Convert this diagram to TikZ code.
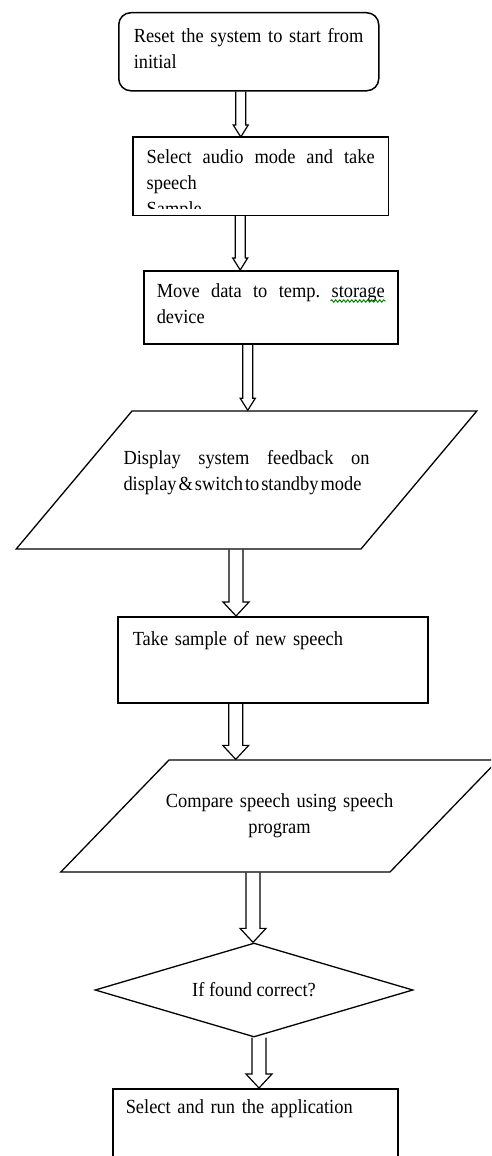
\documentclass[tikz,border=0pt]{standalone}
\usepackage{fontspec}
\setmainfont[FakeStretch=0.92]{Liberation Serif}
\usetikzlibrary{shapes.geometric,calc,decorations.pathmorphing}

\hyphenpenalty=10000
\exhyphenpenalty=10000
\frenchspacing

\newcommand\flowshaft{6pt}
\newcommand\flowwing{10pt}
\newcommand\flowhead{13pt}

\tikzset{
  every node/.style={font=\fontsize{20}{26}\selectfont},
  stepbox/.style={anchor=north west, inner ysep=0pt, align=justify},
  framed/.style={draw, line width=1.5pt},
  slanted/.style={draw, line width=1.3pt, trapezium, trapezium stretches body, inner ysep=0pt},
  decision/.style={draw, line width=1.3pt, diamond, aspect=3.4, inner sep=0pt},
  flow/.style={draw, line width=1.2pt, to path={let \p1=(\tikztostart), \p2=(\tikztotarget) in
    (\x1-\flowshaft,\y1) -- (\x1-\flowshaft,\y2+\flowhead) -- (\x1-\flowwing,\y2+\flowhead)
    -- (\x1,\y2) -- (\x1+\flowwing,\y2+\flowhead) -- (\x1+\flowshaft,\y2+\flowhead) -- (\x1+\flowshaft,\y1)}},
  slim/.code={\def\flowshaft{5pt}\def\flowwing{7.5pt}\def\flowhead{12pt}},
  broad/.code={\def\flowshaft{7pt}\def\flowwing{13pt}\def\flowhead{14pt}},
  squiggle/.style={green!55!black, line width=1pt, decorate, decoration={snake, amplitude=1.2pt, segment length=4pt}},
}

\begin{document}
\begin{tikzpicture}[x=1pt,y=-1pt]
\useasboundingbox (0,0) rectangle (491,1156);
\fill[white] (0,0) rectangle (491,1156);
\clip (0,0) rectangle (491,1156);

% process steps
\node[stepbox, framed, rounded corners=12pt, inner xsep=15pt, text width=230pt, align=left,
      text height=30pt, text depth=48pt] (reset) at (118,12) {Reset the system to start from initial};

\begin{scope}
  \clip (133,137) rectangle (388,208);
  \node[stepbox, inner xsep=13.5pt, text width=228pt, text height=26pt, text depth=52pt]
        (select) at (133,137) {Select audio mode and take speech\\Sample};
\end{scope}
\draw[framed] (select.north west) rectangle (select.south east);

\node[stepbox, framed, inner xsep=13pt, text width=228pt, text height=27pt, text depth=46pt]
      (move) at (143,270) {Move data to temp. storage device};
\draw[squiggle] ([xshift=-68pt,yshift=-31pt]move.north east) -- ([xshift=-13pt,yshift=-31pt]move.north east);

\node[slanted, trapezium left angle=50, trapezium right angle=130, inner xsep=-8.5pt,
      text width=246pt, align=justify, text height=53pt, text depth=85pt] (display) at (246.5,480)
      {Display system feedback on\linebreak{\spaceskip=0.1em plus 0.02em\relax display \& switch to standby mode}};

\node[stepbox, framed, inner xsep=15pt, text width=280pt, align=left, text height=29pt, text depth=57pt]
      (take) at (117,616) {Take sample of new speech};

\node[slanted, trapezium left angle=46, trapezium right angle=134, inner xsep=-14.5pt,
      text width=250pt, align=center, text height=47.5pt, text depth=64.5pt] (compare) at (279.5,816)
      {Compare speech using speech\\program};

\node[decision, minimum width=318pt, minimum height=94pt] (check) at (254,990) {If found correct?};

\node[stepbox, framed, inner xsep=13pt, text width=259pt, align=left, text height=25pt, text depth=55pt]
      (run) at (112,1088) {Select and run the application};

% block arrows
\draw[flow, slim] ([xshift=-8pt]reset.south) to (select.north);
\draw[flow, slim] ([xshift=-20.5pt]select.south) to (move.north);
\draw[flow, slim] ([xshift=-23pt]move.south) to (display.north);
\draw[flow, broad] ([xshift=-10.5pt]display.south) to (take.north);
\draw[flow, broad] ([xshift=-37pt]take.south) to (compare.north);
\draw[flow, broad] ([xshift=-26.5pt]compare.south) to (check.north);
\draw[flow, broad] ([xshift=5pt]check.south) to (run.north);
\end{tikzpicture}
\end{document}
